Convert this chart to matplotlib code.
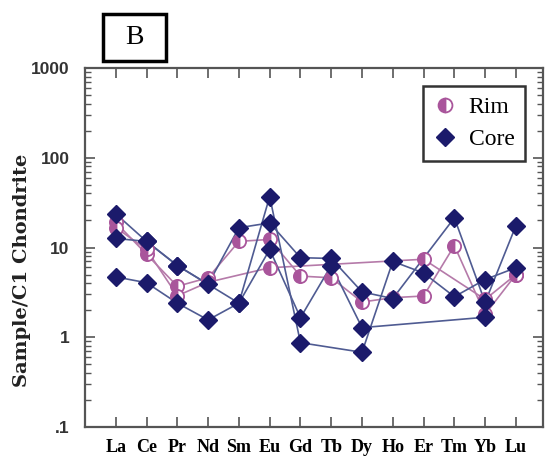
import numpy as np
import matplotlib
matplotlib.use("Agg")
import matplotlib.pyplot as plt
from matplotlib.ticker import FixedLocator, FixedFormatter, LogLocator, NullFormatter
from matplotlib.patches import Rectangle

# REE order
elements = ["La", "Ce", "Pr", "Nd", "Sm", "Eu", "Gd", "Tb", "Dy", "Ho", "Er", "Tm", "Yb", "Lu"]

# rim analyses (None = not plotted, line joins across)
rim_1 = [19.0, 8.4, 3.7, 4.6, 11.7, 12.3, 4.8, 4.6, 2.47, 2.76, 2.88, 10.5, 1.8, 5.0]
rim_2 = [16.7, 9.5, 2.9, 4.1, None, 5.95, None, None, None, None, 7.4, None, 2.64, 5.0]

# core analyses
core_1 = [23.7, 11.7, 6.3, None, 2.4, 37.0, 0.87, None, 0.68, 7.0, 5.2, 2.83, 4.4, 5.95]
core_2 = [12.6, 11.7, 6.3, 3.9, 16.6, 18.8, 7.7, 7.55, 3.2, 2.7, None, 21.4, 2.45, 17.5]
core_3 = [4.7, 4.05, 2.4, 1.56, 2.4, 9.5, 1.65, 6.3, 1.28, None, None, None, 1.67, None]

rim_series = [rim_1, rim_2]
core_series = [core_1, core_2, core_3]

ytick_vals = [0.1, 1, 10, 100, 1000]
ytick_labels = [".1", "1", "10", "100", "1000"]

rim_col = "#a9559b"
rim_line = "#b57aa9"
core_col = "#1b1a6b"
core_line = "#4f5b92"
spine_col = "#555555"

fig = plt.figure(figsize=(5.45, 4.59), dpi=100)
ax = fig.add_axes([85 / 545, 32 / 459, 458 / 545, 359 / 459])


def pts(vals):
    x = [i for i, v in enumerate(vals) if v is not None]
    y = [v for v in vals if v is not None]
    return x, y


for s in rim_series:
    x, y = pts(s)
    ax.plot(x, y, color=rim_line, lw=1.2, zorder=2)
for s in core_series:
    x, y = pts(s)
    ax.plot(x, y, color=core_line, lw=1.2, zorder=3)
for s in rim_series:
    x, y = pts(s)
    ax.plot(x, y, ls="none", marker="o", ms=9.5, fillstyle="left",
            mfc=rim_col, mfcalt="white", mec=rim_col, mew=1.3, zorder=4)
for s in core_series:
    x, y = pts(s)
    ax.plot(x, y, ls="none", marker="D", ms=9, color=core_col, zorder=5)

ax.set_yscale("log")
ax.set_ylim(0.1, 1000)
ax.set_xlim(-1, 13.88)

ax.yaxis.set_major_locator(FixedLocator(ytick_vals))
ax.yaxis.set_major_formatter(FixedFormatter(ytick_labels))
ax.yaxis.set_minor_locator(LogLocator(base=10, subs=np.arange(2, 10)))
ax.yaxis.set_minor_formatter(NullFormatter())
ax.set_xticks(range(len(elements)))
ax.set_xticklabels(elements, family="Liberation Serif", fontweight="bold", fontsize=13)

for lab in ax.get_yticklabels():
    lab.set_fontweight("bold")
    lab.set_fontsize(12.5)
    lab.set_color("#333333")
    lab.set_family("Liberation Sans")

ax.tick_params(axis="both", which="major", direction="in", length=7, width=1.2,
               color=spine_col, top=True, right=True)
ax.tick_params(axis="y", which="minor", direction="in", length=4, width=1.0,
               color=spine_col, right=True)
ax.tick_params(axis="x", which="major", pad=9)
ax.tick_params(axis="y", which="major", pad=11)

for sp in ax.spines.values():
    sp.set_color(spine_col)
    sp.set_linewidth(1.6)

fig.text(22 / 545, 1 - 270 / 459, "Sample/C1 Chondrite", family="DejaVu Serif",
         fontweight="bold", fontsize=14, color="#222222", rotation=90,
         ha="center", va="center")

# legend
h_rim, = ax.plot([], [], ls="none", marker="o", ms=10, fillstyle="left",
                 mfc=rim_col, mfcalt="white", mec=rim_col, mew=1.3)
h_core, = ax.plot([], [], ls="none", marker="D", ms=9, color=core_col)
leg = ax.legend([h_rim, h_core], ["Rim", "Core"], loc="upper right",
                bbox_to_anchor=(0.961, 0.95), prop={"family": "Liberation Serif", "size": 17},
                frameon=True, fancybox=False, handlelength=1.0, handletextpad=0.5,
                borderpad=0.45, labelspacing=0.45, borderaxespad=0)
leg.get_frame().set_edgecolor("black")
leg.get_frame().set_linewidth(1.8)

# panel label
fig.patches.append(Rectangle((103 / 545, 1 - 61 / 459), 63 / 545, 47 / 459,
                             transform=fig.transFigure, fill=False, ec="black", lw=2.5))
fig.text(134.5 / 545, 1 - 38 / 459, "B", family="Liberation Serif", fontsize=20,
         ha="center", va="center")

fig.savefig("out.png", dpi=100)
